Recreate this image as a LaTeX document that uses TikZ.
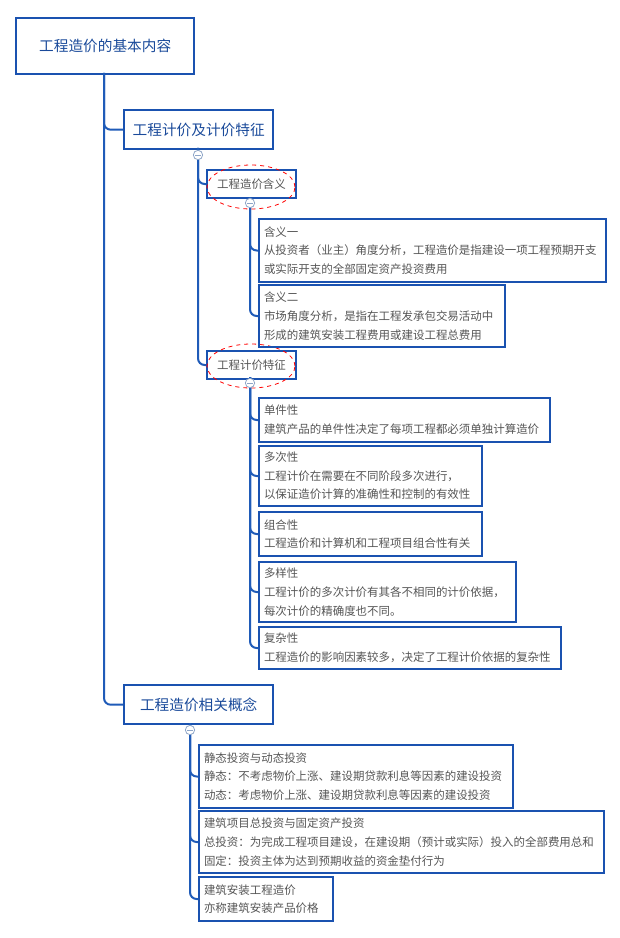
\documentclass[tikz,border=0pt]{standalone}
\usepackage{fontspec}
\setmainfont{Noto Sans CJK SC}
\usetikzlibrary{shapes.geometric}
\begin{document}
\begin{tikzpicture}[x=0.75pt,y=-0.75pt,
  line/.style={draw=linec,line width=1.5pt,rounded corners=5pt},
  bx/.style={draw=boxc,line width=1.5pt,anchor=north west,inner sep=0pt,align=left,text=txtc,font=\fontsize{8.6pt}{14pt}\selectfont},
  big/.style={draw=boxc,line width=1.8pt,anchor=north west,inner sep=0pt,align=center,text=ttlc,font=\fontsize{11pt}{13pt}\selectfont},
  tog/.style={circle,draw=togc,fill=white,line width=0.6pt,minimum size=7pt,inner sep=0pt,
    path picture={\draw[togc,line width=0.6pt] ([xshift=-2pt]path picture bounding box.center)--([xshift=2pt]path picture bounding box.center);}},
  ell/.style={draw=red,dashed,line width=0.6pt,ellipse}]
\definecolor{linec}{HTML}{1F5BB8}
\definecolor{boxc}{HTML}{1A52B0}
\definecolor{txtc}{HTML}{555555}
\definecolor{ttlc}{HTML}{1A4A9A}
\definecolor{togc}{HTML}{8FA6C8}
\useasboundingbox (0,0) rectangle (620,938);
\newcommand{\bxn}[7][bx]{\node[#1,minimum width=#4*0.75pt,minimum height=#5*0.75pt] (#2) at (#3) {\begin{minipage}{\dimexpr #6pt*3/4\relax}#7\end{minipage}};}
% root and level 1
\node[big,minimum width=178*0.75pt,minimum height=56*0.75pt] (root) at (15,17) {工程造价的基本内容};
\node[big,minimum width=149*0.75pt,minimum height=39*0.75pt] (a) at (123,109) {工程计价及计价特征};
\node[big,minimum width=149*0.75pt,minimum height=39*0.75pt] (b) at (123,684) {工程造价相关概念};
\coordinate (r0) at (104,73);
\draw[line] (r0) |- (a.west);
\draw[line] (r0) |- (b.west);
% level 2
\node[bx,minimum width=89*0.75pt,minimum height=28*0.75pt,align=center] (a1) at (206,169) {工程造价含义};
\node[bx,minimum width=89*0.75pt,minimum height=28*0.75pt,align=center] (a2) at (206,350) {工程计价特征};
\coordinate (a0) at (198,148);
\draw[line] (a0) |- (a1.west);
\draw[line] (a0) |- (a2.west);
\node[tog] (ta) at (198,155) {};
\node[ell,minimum width=88*0.75pt,minimum height=44*0.75pt] (e1) at (251,187) {};
\node[ell,minimum width=88*0.75pt,minimum height=44*0.75pt] (e2) at (251,366) {};
% under a1
\bxn{c1}{258,218}{347}{63}{337}{含义一\\从投资者（业主）角度分析，工程造价是指建设一项工程预期开支\\或实际开支的全部固定资产投资费用}
\bxn{c2}{258,284}{246}{62}{236}{含义二\\市场角度分析，是指在工程发承包交易活动中\\形成的建筑安装工程费用或建设工程总费用}
\coordinate (p1) at (250,197);
\draw[line] (p1) |- (c1.west);
\draw[line] (p1) |- (c2.west);
\node[tog] (t1) at (250,203) {};
% under a2
\bxn{d1}{258,397}{291}{44}{281}{单件性\\建筑产品的单件性决定了每项工程都必须单独计算造价}
\bxn{d2}{258,445}{223}{60}{213}{多次性\\工程计价在需要在不同阶段多次进行，\\以保证造价计算的准确性和控制的有效性}
\bxn{d3}{258,511}{223}{44}{213}{组合性\\工程造价和计算机和工程项目组合性有关}
\bxn{d4}{258,561}{257}{60}{247}{多样性\\工程计价的多次计价有其各不相同的计价依据，\\每次计价的精确度也不同。}
\bxn{d5}{258,626}{302}{42}{292}{复杂性\\工程造价的影响因素较多，决定了工程计价依据的复杂性}
\coordinate (p2) at (250,377);
\foreach \n in {d1,d2,d3,d4,d5} \draw[line] (p2) |- (\n.west);
\node[tog] (t2) at (250,383) {};
% under b
\bxn{f1}{198,744}{314}{63}{304}{静态投资与动态投资\\静态：不考虑物价上涨、建设期贷款利息等因素的建设投资\\动态：考虑物价上涨、建设期贷款利息等因素的建设投资}
\bxn{f2}{198,810}{405}{62}{395}{建筑项目总投资与固定资产投资\\总投资：为完成工程项目建设，在建设期（预计或实际）投入的全部费用总和\\固定：投资主体为达到预期收益的资金垫付行为}
\bxn{f3}{198,876}{134}{44}{124}{建筑安装工程造价\\亦称建筑安装产品价格}
\coordinate (p3) at (190,723);
\foreach \n in {f1,f2,f3} \draw[line] (p3) |- (\n.west);
\node[tog] (t3) at (190,730) {};
\end{tikzpicture}
\end{document}
